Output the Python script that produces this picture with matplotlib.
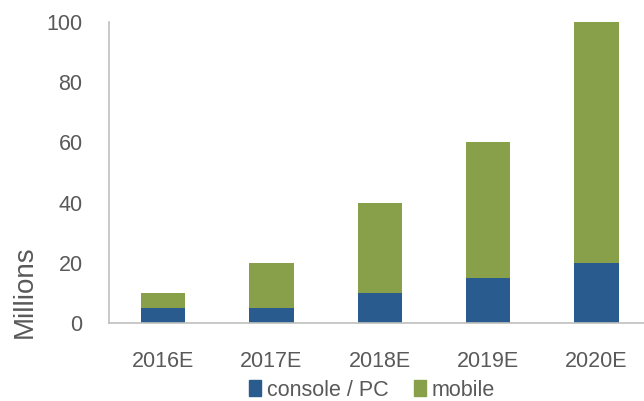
import numpy as np
import matplotlib
matplotlib.use('Agg')
import matplotlib.pyplot as plt
from matplotlib.patches import Patch

years = ['2016E', '2017E', '2018E', '2019E', '2020E']
console_pc = [5, 5, 10, 15, 20]
mobile = [5, 15, 30, 45, 80]

blue = '#2a5b8e'
green = '#88a04a'
grey = '#595959'

plt.rcParams['font.family'] = ['Liberation Sans', 'DejaVu Sans']

fig = plt.figure(figsize=(6.44, 4.01), dpi=100)
ax = fig.add_axes([109/644, 1 - 323/401, 1 - 109/644, (323 - 22)/401])

x = np.arange(len(years))
ax.bar(x, console_pc, width=0.41, color=blue, label='console / PC')
ax.bar(x, mobile, width=0.41, bottom=console_pc, color=green, label='mobile')

ax.set_xlim(-0.5, 4.44)
ax.set_ylim(0, 100)
ax.set_yticks(range(0, 101, 20))
ax.set_xticks(x)
ax.set_xticklabels(years)
ax.tick_params(length=0, labelsize=15.5, labelcolor=grey)
ax.tick_params(axis='y', pad=19)
ax.tick_params(axis='x', pad=20)

for s in ['top', 'right']:
    ax.spines[s].set_visible(False)
for s in ['left', 'bottom']:
    ax.spines[s].set_color('#bfbfbf')
    ax.spines[s].set_linewidth(1.2)

fig.text(25/644, 1 - 292/401, 'Millions', rotation=90, ha='center', va='center',
         fontsize=20, color=grey)

handles = [Patch(color=blue, label='console / PC'), Patch(color=green, label='mobile')]
leg = fig.legend(handles=handles, loc='center', bbox_to_anchor=(372/644, 1 - 390/401),
                 ncol=2, frameon=False, fontsize=15.5, handlelength=0.55, handleheight=0.7,
                 handletextpad=0.25, columnspacing=1.2, borderpad=0)
for t in leg.get_texts():
    t.set_color(grey)

fig.savefig('out.png', dpi=100)
